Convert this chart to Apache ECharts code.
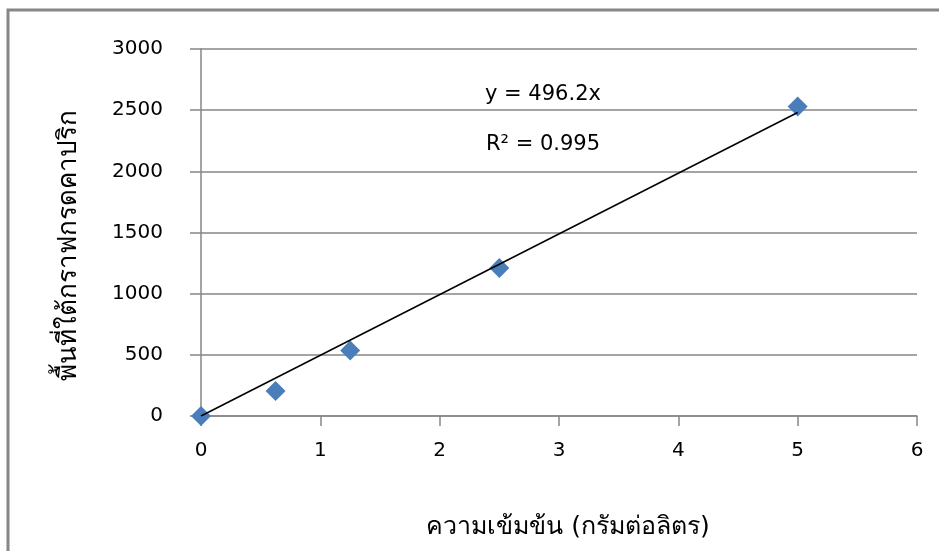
<!DOCTYPE html>
<html>
<head>
<meta charset="utf-8">
<script src="https://cdn.jsdelivr.net/npm/echarts@6/dist/echarts.min.js"></script>
<style>
  html, body { margin: 0; padding: 0; background: #fff; }
  #chart { width: 939px; height: 551px; }
</style>
</head>
<body>
<div id="chart"></div>
<script>
// Calibration standards: concentration (g/L) vs. peak area
const concentrations = [0, 0.625, 1.25, 2.5, 5];
const peakAreas = [0, 205, 535, 1210, 2530];

// Linear fit through the origin, as reported on the chart
const slope = 496.2;
const rSquared = 0.995;
const fitRange = [0, 5];

const xTicks = { min: 0, max: 6, interval: 1 };
const yTicks = { min: 0, max: 3000, interval: 500 };

const xName = 'ความเข้มข้น (กรัมต่อลิตร)';
const yName = 'พื้นที่ใต้กราฟกรดคาปริก';

const font = '"DejaVu Sans", "Noto Sans", "Liberation Sans", sans-serif';
const gray = '#868686';

const chart = echarts.init(document.getElementById('chart'), null, { renderer: 'canvas' });

const points = concentrations.map((x, i) => [x, peakAreas[i]]);
const fitLine = fitRange.map(x => [x, slope * x]);

chart.setOption({
  backgroundColor: '#ffffff',
  animation: false,
  grid: { left: 201, right: 22, top: 49, bottom: 135 },
  xAxis: {
    type: 'value',
    min: xTicks.min, max: xTicks.max, interval: xTicks.interval,
    name: xName,
    nameLocation: 'middle',
    nameGap: 99,
    nameTextStyle: { fontFamily: font, fontSize: 25, color: '#000', padding: [0, 0, 0, 18] },
    axisLine: { show: true, onZero: false, lineStyle: { color: gray, width: 1.5 } },
    axisTick: { show: true, inside: false, length: 10, lineStyle: { color: gray, width: 1.5 } },
    axisLabel: { margin: 25, fontFamily: font, fontSize: 20, color: '#000' },
    splitLine: { show: false }
  },
  yAxis: {
    type: 'value',
    min: yTicks.min, max: yTicks.max, interval: yTicks.interval,
    name: yName,
    nameLocation: 'middle',
    nameGap: 119,
    nameRotate: 90,
    nameTextStyle: { fontFamily: font, fontSize: 26, color: '#000', padding: [0, 26, 0, 0] },
    axisLine: { show: true, onZero: false, lineStyle: { color: gray, width: 1.5 } },
    axisTick: { show: true, inside: false, length: 11, lineStyle: { color: gray, width: 1.5 } },
    axisLabel: { margin: 38, fontFamily: font, fontSize: 20, color: '#000', formatter: v => String(v) },
    splitLine: { show: true, lineStyle: { color: gray, width: 1.5 } }
  },
  graphic: [
    {
      type: 'rect',
      shape: { x: 8, y: 10, width: 1000, height: 600 },
      style: { fill: 'none', stroke: gray, lineWidth: 3 },
      silent: true
    },
    {
      type: 'text',
      left: 485, top: 84,
      style: { text: 'y = ' + slope + 'x', fontFamily: font, fontSize: 21, fill: '#000' }
    },
    {
      type: 'text',
      left: 486, top: 134,
      style: { text: 'R² = ' + rSquared, fontFamily: font, fontSize: 21, fill: '#000' }
    }
  ],
  series: [
    {
      type: 'scatter',
      data: points,
      symbol: 'diamond',
      symbolSize: 20,
      itemStyle: { color: '#4A7EBB', opacity: 1 },
      z: 2
    },
    {
      type: 'line',
      data: fitLine,
      symbol: 'none',
      lineStyle: { color: '#000', width: 1.5 },
      z: 3
    }
  ]
});
</script>
</body>
</html>
